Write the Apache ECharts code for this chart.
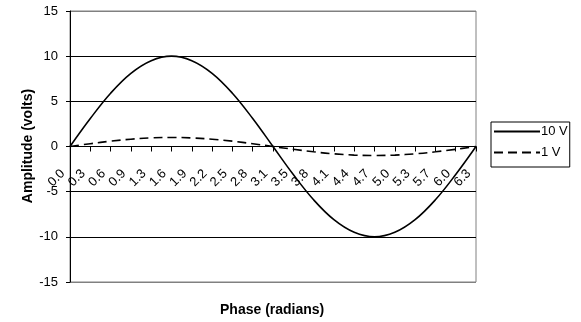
<!DOCTYPE html>
<html>
<head>
<meta charset="utf-8">
<script src="https://cdn.jsdelivr.net/npm/echarts@6/dist/echarts.min.js"></script>
<style>
  html, body { margin: 0; padding: 0; background: #fff; }
  #chart { width: 581px; height: 322px; }
</style>
</head>
<body>
<div id="chart"></div>
<script>
// Phase samples (radians), one per category
const phaseLabels = ['0.0','0.3','0.6','0.9','1.3','1.6','1.9','2.2','2.5','2.8','3.1',
                     '3.5','3.8','4.1','4.4','4.7','5.0','5.3','5.7','6.0','6.3'];
// Amplitude of the 10 V signal
const tenVolt = [0, 3.1, 5.9, 8.1, 9.5, 10, 9.5, 8.1, 5.9, 3.1, 0,
                 -3.1, -5.9, -8.1, -9.5, -10, -9.5, -8.1, -5.9, -3.1, 0];
// Amplitude of the 1 V signal
const oneVolt = [0, 0.31, 0.59, 0.81, 0.95, 1, 0.95, 0.81, 0.59, 0.31, 0,
                 -0.31, -0.59, -0.81, -0.95, -1, -0.95, -0.81, -0.59, -0.31, 0];
const seriesNames = ['10 V', '1 V'];

const font = 'Liberation Sans, Arial, sans-serif';
const gridTop = 11, gridBottom = 40, chartHeight = 322;
// the category axis sits on the zero line, halfway up the symmetric value range
const zeroOffset = -(chartHeight - gridTop - gridBottom) / 2;

const chart = echarts.init(document.getElementById('chart'), null, { renderer: 'canvas' });

chart.setOption({
  animation: false,
  backgroundColor: '#fff',
  textStyle: { fontFamily: font, color: '#000' },
  grid: {
    left: 70, right: 105, top: gridTop, bottom: gridBottom,
    outerBoundsMode: 'none',
    show: true, borderColor: '#808080', borderWidth: 1, backgroundColor: 'transparent'
  },
  legend: {
    orient: 'vertical',
    left: 491, top: 122,
    padding: [3, 2, 8, 2],
    itemGap: 8,
    itemWidth: 46,
    itemHeight: 14,
    borderColor: '#000',
    borderWidth: 1,
    itemStyle: { opacity: 0 },
    textStyle: { fontFamily: font, fontSize: 13, color: '#000', padding: [0, 0, 0, -4] },
    data: seriesNames
  },
  // axis titles
  graphic: [
    {
      type: 'text',
      left: 220,
      top: 303,
      style: { text: 'Phase (radians)', font: 'bold 14px ' + font, fill: '#000' }
    },
    {
      type: 'text',
      x: 28,
      y: 146,
      rotation: Math.PI / 2,
      style: {
        text: 'Amplitude (volts)', font: 'bold 14px ' + font, fill: '#000',
        align: 'center', verticalAlign: 'middle'
      }
    }
  ],
  xAxis: {
    type: 'category',
    data: phaseLabels,
    boundaryGap: false,
    position: 'bottom',
    offset: zeroOffset,
    axisLine: { onZero: false, lineStyle: { color: '#000', width: 1 } },
    axisTick: { show: true, alignWithLabel: true, length: 5, lineStyle: { color: '#000' } },
    axisLabel: {
      rotate: 45, fontSize: 13, color: '#000', margin: 18, interval: 0, fontFamily: font,
      padding: [0, 10, 0, 0]
    },
    splitLine: { show: false }
  },
  yAxis: {
    type: 'value',
    min: -15, max: 15, interval: 5,
    axisLine: { show: true, lineStyle: { color: '#000', width: 1 } },
    axisTick: { show: true, length: 4, lineStyle: { color: '#000' } },
    axisLabel: { fontSize: 13, color: '#000', margin: 12, fontFamily: font },
    splitLine: {
      show: true,
      lineStyle: { color: ['#808080', '#000', '#000', '#000', '#000', '#000', '#808080'], width: 1 }
    }
  },
  series: [
    {
      name: seriesNames[0],
      type: 'line',
      data: tenVolt,
      smooth: 0.4,
      symbol: 'none',
      lineStyle: { color: '#000', width: 1.6, type: 'solid' },
      itemStyle: { color: '#000' }
    },
    {
      name: seriesNames[1],
      type: 'line',
      data: oneVolt,
      smooth: 0.4,
      symbol: 'none',
      lineStyle: { color: '#000', width: 1.6, type: [9, 5] },
      itemStyle: { color: '#000' }
    }
  ]
});
</script>
</body>
</html>
